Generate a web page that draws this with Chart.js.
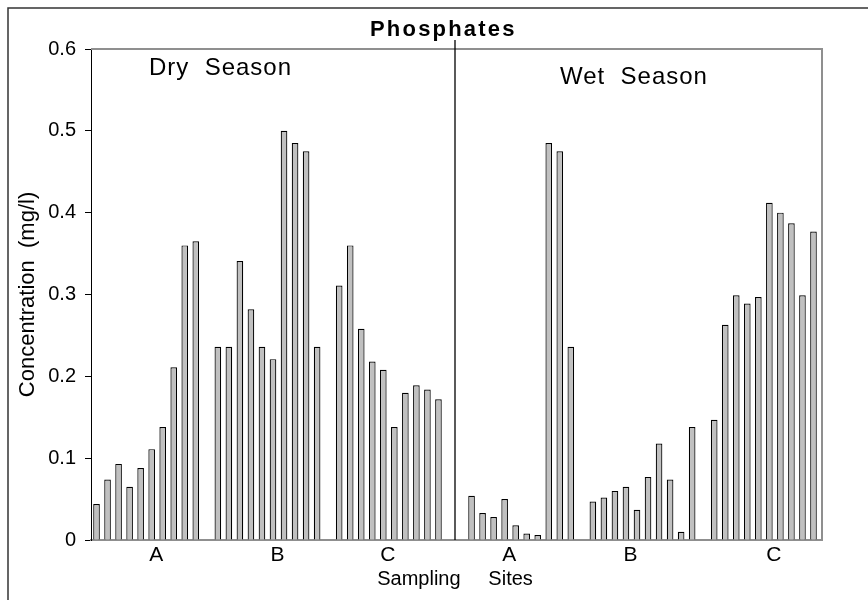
<!DOCTYPE html>
<html>
<head>
<meta charset="utf-8">
<title>Phosphates</title>
<script src="https://cdn.jsdelivr.net/npm/chart.js@4.4.1/dist/chart.umd.min.js"></script>
<style>
  html, body { margin: 0; padding: 0; background: #fff; }
  #wrap { width: 868px; height: 600px; }
</style>
</head>
<body>
<div id="wrap"><canvas id="chartBars" width="868" height="600"></canvas></div>
<script>
// sampling sites and seasons
const sites = ["A", "B", "C"];
const seasons = ["Dry  Season", "Wet  Season"];

// phosphate concentration (mg/l), ten samples per site
const dryA = [0.044, 0.074, 0.093, 0.065, 0.088, 0.111, 0.138, 0.211, 0.360, 0.365];
const dryB = [0.236, 0.236, 0.341, 0.282, 0.236, 0.221, 0.500, 0.485, 0.475, 0.236];
const dryC = [0.311, 0.360, 0.258, 0.218, 0.208, 0.138, 0.180, 0.189, 0.184, 0.172];
const wetA = [0.054, 0.033, 0.028, 0.050, 0.018, 0.008, 0.006, 0.485, 0.475, 0.236];
const wetB = [0.047, 0.052, 0.060, 0.065, 0.037, 0.077, 0.118, 0.074, 0.010, 0.138];
const wetC = [0.147, 0.263, 0.299, 0.289, 0.297, 0.412, 0.400, 0.387, 0.299, 0.377];

const yTicks = [0, 0.1, 0.2, 0.3, 0.4, 0.5, 0.6];

// layout of the category axis: empty slots after each group, slot carrying the letter
const groups = [dryA, dryB, dryC, wetA, wetB, wetC];
const gapAfter = [1, 1, 2, 1, 1, 0];
const letterSlot = [5, 5, 4, 3, 3, 5];

let values = [];
let labels = [];
let divSlot = 0;
groups.forEach((g, gi) => {
  g.forEach((v, i) => {
    values.push(v);
    labels.push(i === letterSlot[gi] ? sites[gi % 3] : "");
  });
  // divider sits in the middle of the gap between the dry and wet groups
  if (gi === 2) divSlot = values.length - 0.5 + gapAfter[gi] / 2;
  for (let k = 0; k < gapAfter[gi]; k++) {
    values.push(null);
    labels.push("");
  }
});

Chart.defaults.font.family = '"Liberation Sans", Arial, sans-serif';
Chart.defaults.color = "#000";

const decor = {
  id: "decor",
  afterDraw(chart) {
    const { ctx, chartArea: a, scales } = chart;
    const x = scales.x;
    ctx.save();

    // outer frame (runs off the right and bottom edge)
    ctx.strokeStyle = "#333";
    ctx.lineWidth = 1.5;
    ctx.strokeRect(8, 8, 900, 700);

    // grey plot border, top and right
    ctx.strokeStyle = "#8f8f8f";
    ctx.lineWidth = 2;
    ctx.beginPath();
    ctx.moveTo(a.left, a.top);
    ctx.lineTo(a.right + 3, a.top);
    ctx.lineTo(a.right + 3, a.bottom);
    ctx.lineTo(a.right, a.bottom);
    ctx.stroke();

    // season divider
    const xd = x.getPixelForValue(divSlot);
    ctx.strokeStyle = "#000";
    ctx.lineWidth = 1.3;
    ctx.beginPath();
    ctx.moveTo(xd, 40);
    ctx.lineTo(xd, a.bottom);
    ctx.stroke();

    // texts
    ctx.fillStyle = "#000";
    ctx.textAlign = "left";
    ctx.textBaseline = "alphabetic";
    ctx.font = 'bold 22px "Liberation Sans", Arial, sans-serif';
    ctx.letterSpacing = "2.2px";
    ctx.fillText("Phosphates", 370, 36);

    ctx.font = '24px "Liberation Sans", Arial, sans-serif';
    ctx.letterSpacing = "1px";
    ctx.fillText(seasons[0], 149, 75);
    ctx.fillText(seasons[1], 560, 84);
    ctx.letterSpacing = "0px";

    ctx.restore();
  }
};

const data = {
  labels: labels,
  datasets: [
    {
      label: "Phosphates",
      data: values,
      backgroundColor: "#c0c0c0",
      borderColor: "#000",
      borderWidth: 1.2,
      barPercentage: 0.6,
      categoryPercentage: 1.0,
    },
  ],
};

const config = {
  type: "bar",
  data,
  options: {
    responsive: false,
    animation: false,
    events: [],
    layout: { padding: { top: 49, right: 49, left: 0, bottom: 0 } },
    plugins: {
      legend: { display: false },
      title: { display: false },
      tooltip: { enabled: false },
    },
    scales: {
      x: {
        offset: true,
        grid: { display: false, drawTicks: false },
        border: { display: true, color: "#8f8f8f", width: 2 },
        ticks: {
          autoSkip: false,
          maxRotation: 0,
          minRotation: 0,
          padding: 3,
          labelOffset: 4.5,
          font: { size: 21 },
        },
        title: {
          display: true,
          text: "Sampling     Sites",
          font: { size: 20 },
          padding: { top: 0, bottom: 9 },
        },
        afterFit(scale) { scale.height = 60; },
      },
      y: {
        min: 0,
        max: 0.6,
        afterBuildTicks(scale) { scale.ticks = yTicks.map(v => ({ value: v })); },
        grid: { drawOnChartArea: false, drawTicks: true, tickLength: 6, color: "#000" },
        border: { display: true, color: "#000", width: 1 },
        ticks: {
          padding: 9,
          font: { size: 20 },
          callback: v => (v === 0 ? "0" : v.toFixed(1)),
        },
        title: {
          display: true,
          text: "Concentration  (mg/l)",
          font: { size: 22 },
          padding: { top: 15, bottom: 0 },
        },
        afterFit(scale) { scale.width = 91; },
      },
    },
  },
  plugins: [decor],
};

var chartBars = new Chart(document.getElementById("chartBars"), config);
</script>
</body>
</html>
